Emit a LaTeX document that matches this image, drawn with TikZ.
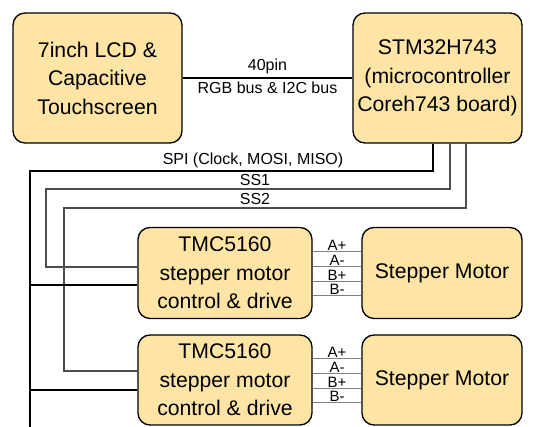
\documentclass[tikz,border=0pt]{standalone}
\usepackage{fontspec}
\setmainfont{Liberation Sans}
\usetikzlibrary{calc, positioning}

\begin{document}
\begin{tikzpicture}[x=1pt, y=-1pt,
    block/.style={draw=borderColour, fill=fillColour, line width=1.3pt, rounded corners=12pt,
        align=center, inner sep=0pt, font=\fontsize{21.2}{28.5}\selectfont},
    bus/.style={draw=borderColour, line width=1.3pt},
    select/.style={draw=selectColour, line width=1.1pt},
    wire/.style={draw=wireColour, line width=1pt},
    busLabel/.style={font=\fontsize{16}{18}\selectfont},
    wireLabel/.style={font=\fontsize{15}{15}\selectfont, inner sep=0.6pt, anchor=south}]

    \definecolor{borderColour}{HTML}{000000}
    \definecolor{fillColour}{HTML}{FFE5A5}
    \definecolor{selectColour}{HTML}{4D4D4D}
    \definecolor{wireColour}{HTML}{808080}

    % Fix the picture size
    \useasboundingbox (0,0) rectangle (536,427);

    % Draw the blocks
    \node[block, minimum width=169pt, minimum height=130pt] (lcd) at (97.5,78) {7inch LCD \&\\Capacitive\\Touchscreen};
    \node[block, minimum width=169pt, minimum height=130pt] (mcu) at (437.5,78) {STM32H743\\(microcontroller\\Coreh743 board)};
    \node[block, minimum width=174pt, minimum height=91pt] (drv1) at (225,273) {TMC5160\\stepper motor\\control \& drive};
    \node[block, minimum width=174pt, minimum height=90pt] (drv2) at (225,380) {TMC5160\\stepper motor\\control \& drive};
    \node[block, minimum width=160pt, minimum height=91pt] (motor1) at (442,273) {Stepper Motor};
    \node[block, minimum width=160pt, minimum height=90pt] (motor2) at (442,380) {Stepper Motor};

    % Display bus
    \draw[bus] (lcd.east) -- (mcu.west)
        node[midway, above, busLabel] (pinLabel) {40pin}
        node[midway, below, busLabel] (rgbLabel) {RGB bus \& I2C bus};

    % Define the bus corners
    \coordinate (spiCorner) at (30,171);
    \coordinate (spiEnd) at (30,427);
    \coordinate (ssOneCorner) at (46,189);
    \coordinate (ssTwoCorner) at (64,208);

    % SPI bus and chip selects
    \draw[bus] ($(mcu.south)+(-4.5,0)$) |- (spiCorner) -- (spiEnd);
    \draw[select] ($(mcu.south)+(12.5,0)$) |- (ssOneCorner) |- ([yshift=6pt]drv1.west);
    \draw[select] ($(mcu.south)+(28.5,0)$) |- (ssTwoCorner) |- ([yshift=9pt]drv2.west);
    \node[busLabel, above] (spiLabel) at (253,171) {SPI (Clock, MOSI, MISO)};
    \node[busLabel, above] (ssOneLabel) at (255,189) {SS1};
    \node[busLabel, above] (ssTwoLabel) at (255,208) {SS2};

    % SPI branches to the drivers
    \coordinate (drv1Spi) at ([yshift=-12pt]drv1.west);
    \coordinate (drv2Spi) at ([yshift=-10pt]drv2.west);
    \draw[bus] (drv1Spi) -- (drv1Spi -| spiCorner);
    \draw[bus] (drv2Spi) -- (drv2Spi -| spiCorner);

    % Motor phase wires
    \foreach \k in {1,2}
        \foreach \phase [count=\i] in {A+,A-,B+,B-} {
            \coordinate (w\k\i) at ([yshift={(21-14.6*(\i-1))*1pt}]drv\k.east);
            \draw[wire] (w\k\i) -- (w\k\i -| motor\k.west) node[midway, wireLabel] {\phase};
        }

\end{tikzpicture}
\end{document}
